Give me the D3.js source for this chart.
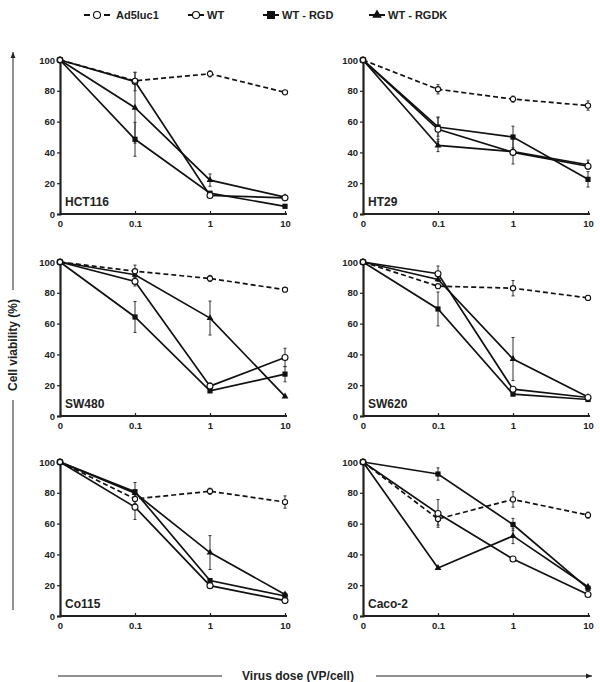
<!DOCTYPE html>
<html><head><meta charset="utf-8">
<script src="https://cdn.jsdelivr.net/npm/d3@7"></script>
<style>body{margin:0;background:#fff}svg{display:block;font-family:"Liberation Sans",Arial,sans-serif;font-weight:bold}</style>
</head><body><svg id="c" width="600" height="682"></svg>
<script>
const doses = ["0","0.1","1","10"];
const cellLines = ["HCT116","HT29","SW480","SW620","Co115","Caco-2"];
const yTicks = [0,20,40,60,80,100];
const seriesNames = ["Ad5luc1","WT","WT - RGD","WT - RGDK"];
const ad5luc1 = [[100,86.5,91,79],[100,81,74.6,70.4],[100,94,89.3,82],[100,84.3,83,76.7],[100,76,81,74],[100,63,75.7,65.5]];
const wt      = [[100,86,12,10.5],[100,55,40,31],[100,87.4,19.4,38],[100,92.4,17.4,12],[100,70.7,19.7,10],[100,66.6,37,14]];
const wtRGD   = [[100,48.5,13.5,5],[100,56.5,50,22.5],[100,64.3,16.3,27.2],[100,69.5,14.2,10.7],[100,80.7,23,13],[100,92.2,59.4,18]];
const wtRGDK  = [[100,69,22,11],[100,44.5,40.5,32],[100,91.7,63.6,12.7],[100,88.7,37,12.4],[100,79.8,41.2,14],[100,31.2,52,19]];
const ad5Err  = [[0,1,2,1],[0,3,2,3],[0,4,2,1],[0,1,5,1.5],[0,3,2,4],[0,4,5,2]];
const wtErr   = [[0,6,1,1],[0,8,0,0],[0,3,2,6],[0,5,0,0],[0,8,0,0],[0,9,0,0]];
const rgdErr  = [[0,11,1,1],[0,6,7,5],[0,10,1,5],[0,11,0,0],[0,6,0,0],[0,4,4,0]];
const rgdkErr = [[0,23,4,1],[0,4,8,3],[0,0,11,0],[0,0,14,0],[0,0,11,1],[0,0,5,0]];

const svg = d3.select("#c");
const colX = [60, 363], rowY = [60, 262, 462];
const pw = 225, ph = 154;
const series = [
  {vals: ad5luc1, err: ad5Err, dash: "5,3", marker: "circle", r: 2.6},
  {vals: wt, err: wtErr, dash: null, marker: "circle", r: 3},
  {vals: wtRGD, err: rgdErr, dash: null, marker: "square"},
  {vals: wtRGDK, err: rgdkErr, dash: null, marker: "triangle"}
];
function drawMarker(g, type, x, y, r) {
  if (type === "circle") {
    g.append("circle").attr("cx", x).attr("cy", y).attr("r", r)
      .attr("fill", "#fff").attr("stroke", "#111").attr("stroke-width", 1.1);
  } else if (type === "square") {
    g.append("rect").attr("x", x - 2.6).attr("y", y - 2.6).attr("width", 5.2).attr("height", 5.2).attr("fill", "#111");
  } else {
    g.append("path").attr("d", d3.symbol(d3.symbolTriangle, 20)()).attr("transform", `translate(${x},${y})`).attr("fill", "#111");
  }
}

cellLines.forEach((name, i) => {
  const ox = colX[i % 2], oy = rowY[Math.floor(i / 2)];
  const g = svg.append("g").attr("transform", `translate(${ox},${oy})`);
  const x = d3.scalePoint().domain(doses).range([0, pw]);
  const y = d3.scaleLinear().domain([0, 100]).range([ph, 0]);
  const ya = g.append("g").call(d3.axisLeft(y).tickValues(yTicks).tickSize(3).tickPadding(2));
  ya.select(".domain").attr("stroke", "#222").attr("stroke-width", 2.2);
  ya.selectAll("text").attr("font-size", 9.5).attr("font-weight", "bold").attr("fill", "#222");
  ya.selectAll(".tick line").attr("stroke", "#222").attr("stroke-width", 1.2);
  const xa = g.append("g").attr("transform", `translate(0,${ph})`).call(d3.axisBottom(x).tickSize(0).tickPadding(6));
  xa.select(".domain").attr("stroke", "#222").attr("stroke-width", 2.2).attr("d", `M0,0H${pw + 2}`);
  xa.selectAll("text").attr("font-size", 9.5).attr("font-weight", "bold").attr("fill", "#222");
  xa.selectAll(".tick").append("line").attr("y1", 0).attr("y2", -3).attr("stroke", "#222").attr("stroke-width", 1.2);
  g.append("text").attr("x", 5).attr("y", ph - 8).attr("font-size", 12).attr("fill", "#222").text(name);
  const line = d3.line().x((d, j) => x(doses[j])).y(d => y(d));
  series.forEach(s => {
    s.vals[i].forEach((v, j) => {
      const e = s.err[i][j];
      if (e > 0) {
        g.append("line").attr("x1", x(doses[j])).attr("x2", x(doses[j]))
          .attr("y1", y(v + e)).attr("y2", y(v - e)).attr("stroke", "#333").attr("stroke-width", 1);
        [v + e, v - e].forEach(t => g.append("line").attr("x1", x(doses[j]) - 1.5).attr("x2", x(doses[j]) + 1.5)
          .attr("y1", y(t)).attr("y2", y(t)).attr("stroke", "#333").attr("stroke-width", 1));
      }
    });
  });
  series.forEach(s => {
    g.append("path").attr("d", line(s.vals[i])).attr("fill", "none").attr("stroke", "#111")
      .attr("stroke-width", 1.7).attr("stroke-dasharray", s.dash);
  });
  series.slice().reverse().forEach(s => {
    s.vals[i].forEach((v, j) => drawMarker(g, s.marker, x(doses[j]), y(v), s.r));
  });
});

const leg = svg.append("g");
const legX = [84, 188, 263, 369];
series.forEach((s, k) => {
  const lx = legX[k], ly = 15;
  if (k === 0) {
    leg.append("line").attr("x1", lx).attr("x2", lx + 6).attr("y1", ly).attr("y2", ly).attr("stroke", "#111").attr("stroke-width", 2);
    leg.append("line").attr("x1", lx + 20).attr("x2", lx + 26).attr("y1", ly).attr("y2", ly).attr("stroke", "#111").attr("stroke-width", 2);
    drawMarker(leg, "circle", lx + 13, ly, 3.5);
    leg.append("text").attr("x", lx + 32).attr("y", ly + 4).attr("font-size", 11).attr("fill", "#222").text(seriesNames[k]);
  } else {
    leg.append("line").attr("x1", lx).attr("x2", lx + 16).attr("y1", ly).attr("y2", ly).attr("stroke", "#111").attr("stroke-width", 2);
    if (s.marker === "circle") drawMarker(leg, "circle", lx + 8, ly, 3.5);
    else if (s.marker === "square") leg.append("rect").attr("x", lx + 4).attr("y", ly - 4).attr("width", 8).attr("height", 8).attr("fill", "#111");
    else leg.append("path").attr("d", d3.symbol(d3.symbolTriangle, 40)()).attr("transform", `translate(${lx + 8},${ly})`).attr("fill", "#111");
    leg.append("text").attr("x", lx + 19).attr("y", ly + 4).attr("font-size", 11).attr("fill", "#222").text(seriesNames[k]);
  }
});

const defs = svg.append("defs");
defs.append("marker").attr("id", "arr").attr("viewBox", "0 0 10 10").attr("refX", 10).attr("refY", 5)
  .attr("markerWidth", 6).attr("markerHeight", 6).attr("orient", "auto")
  .append("path").attr("d", "M0,1L10,5L0,9Z").attr("fill", "#222");
svg.append("text").attr("transform", "translate(17,345) rotate(-90)").attr("text-anchor", "middle")
  .attr("font-size", 12).attr("fill", "#222").text("Cell viability (%)");
svg.append("line").attr("x1", 13).attr("x2", 13).attr("y1", 290).attr("y2", 52).attr("stroke", "#222").attr("stroke-width", 1).attr("marker-end", "url(#arr)");
svg.append("line").attr("x1", 13).attr("x2", 13).attr("y1", 400).attr("y2", 610).attr("stroke", "#222").attr("stroke-width", 1);
svg.append("text").attr("x", 298).attr("y", 680).attr("text-anchor", "middle")
  .attr("font-size", 12).attr("fill", "#222").text("Virus dose (VP/cell)");
svg.append("line").attr("x1", 58).attr("x2", 222).attr("y1", 676).attr("y2", 676).attr("stroke", "#222").attr("stroke-width", 1);
svg.append("line").attr("x1", 376).attr("x2", 592).attr("y1", 676).attr("y2", 676).attr("stroke", "#222").attr("stroke-width", 1).attr("marker-end", "url(#arr)");
</script></body></html>
